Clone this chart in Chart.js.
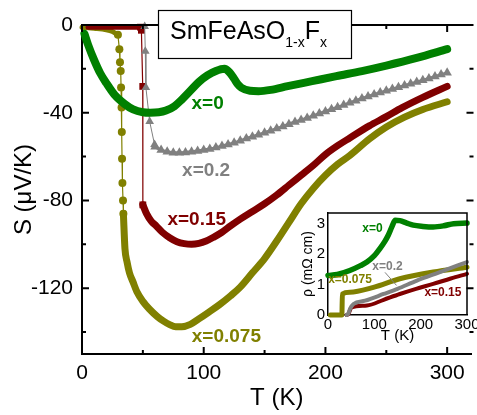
<!DOCTYPE html>
<html>
<head>
<meta charset="utf-8">
<script src="https://cdn.jsdelivr.net/npm/chart.js@4.4.0/dist/chart.umd.min.js"></script>
<style>
  html, body { margin: 0; padding: 0; background: #fff; }
  #wrap { position: relative; width: 477px; height: 415px; overflow: hidden; }
  #mainChart { position: absolute; left: 0; top: 0; }
  #insetChart { position: absolute; left: 300px; top: 205px; }
</style>
</head>
<body>
<div id="wrap">
  <canvas id="mainChart" width="477" height="415"></canvas>
  <canvas id="insetChart" width="177" height="145"></canvas>
</div>
<script>
// ---- main panel: thermopower S (uV/K) vs T (K) ----
const xTicks = [0, 100, 200, 300];
const xMinor = [50, 150, 250];
const yTicks = [0, -40, -80, -120];
const yMinor = [-20, -60, -100, -140];

// x = 0
const x0T = [2, 5, 10, 15, 20, 27, 35, 42, 50, 56, 63, 69, 76, 82, 89, 96, 103, 110, 117, 121, 125, 128, 131, 138, 145, 155, 169, 189, 209, 230, 250, 275, 300];
const x0S = [-4, -9, -16, -22, -26.5, -32, -36, -38.5, -39.8, -40, -39.8, -39, -37, -34, -30, -26, -23, -21, -20, -21.5, -24.5, -27, -28.6, -30, -30.2, -29.6, -27.9, -25.6, -23.3, -21, -18.5, -15, -11];

// x = 0.2
const x02DropT = [51.5, 52, 52.5, 55.6, 59.6];
const x02DropS = [-0.7, -12, -28.5, -44, -54.5];
const x02T = [60, 65, 70, 75, 80, 85, 90, 95, 100, 105, 110, 115, 120, 125, 130, 135, 140, 145, 150, 155, 160, 165, 170, 175, 180, 185, 190, 195, 200, 205, 210, 215, 220, 225, 230, 235, 240, 245, 250, 255, 260, 265, 270, 275, 280, 285, 290, 295, 300];
const x02S = [-55.5, -57, -57.8, -58.2, -58.3, -58.1, -57.8, -57.4, -57, -56.5, -55.9, -55.2, -54.5, -53.7, -52.8, -51.8, -50.9, -50, -49.1, -48.2, -47.2, -46.3, -45.2, -44.2, -43.3, -42.4, -41.4, -40.4, -39.4, -38.4, -37.5, -36.5, -35.5, -34.5, -33.5, -32.6, -31.7, -30.8, -30, -29.2, -28.4, -27.6, -26.8, -26, -25.2, -24.4, -23.5, -22.6, -21.8];

// x = 0.15
const x015TopT = [5, 20, 35, 48];
const x015TopS = [-1, -1, -1, -1];
const x015DropT = [48, 48.8, 49.9, 50];
const x015DropS = [-1, -2.4, -28, -82];
const x015T = [50, 53, 57, 61, 66, 72, 78, 84, 90, 96, 102, 108, 115, 122, 130, 140, 150, 160, 170, 180, 190, 200, 210, 220, 236, 250, 263, 280, 300];
const x015S = [-82, -86, -89.5, -91.6, -94.5, -97, -98.8, -99.7, -100, -99.6, -98.5, -96.8, -94.5, -91.6, -88.5, -85, -81.5, -77.5, -73, -68.5, -64, -59, -55, -51.5, -46, -41.8, -37.7, -33, -28];

// x = 0.075
const x0075TopT = [0, 10, 20, 25, 29.5];
const x0075TopS = [-1, -1.5, -2.2, -3, -4.5];
const x0075DropT = [29.5, 30.7, 31.2, 31.8, 32.1, 32.5, 32.7, 32.9, 33.2, 33.7, 34];
const x0075DropS = [-4.5, -11, -17, -21, -28.5, -37.6, -48.8, -61, -72, -80, -86];
const x0075T = [34, 35.3, 37, 39, 41.8, 45, 50, 55.5, 62, 67, 72, 77, 82, 89, 96, 104, 113, 122, 130, 140, 150, 160, 170, 180, 190, 200, 210, 220, 236, 250, 265, 280, 300];
const x0075S = [-86, -102, -108, -113, -117, -121.5, -126, -129.6, -133, -135, -136.6, -137.6, -137.6, -136.5, -134, -131, -127.5, -123.5, -119.5, -113, -106.5, -98.5, -90, -81.5, -74.5, -68.5, -63.5, -59.5, -52, -46.5, -42, -38.5, -35];

// ---- inset: resistivity rho (mOhm cm) vs T (K) ----
const insetXTicks = [0, 100, 200, 300];
const insetYTicks = [0, 1, 2, 3];
const r0T = [0, 20, 47, 70, 84, 100, 112, 122, 130, 138, 145, 155, 170, 184, 205, 227, 250, 271, 300];
const r0R = [1.3, 1.33, 1.46, 1.62, 1.74, 1.95, 2.18, 2.4, 2.62, 2.9, 3.11, 3.1, 3.02, 2.95, 2.91, 2.89, 2.93, 3.0, 3.02];
const r0075T = [5, 30, 31, 47, 98, 155, 227, 300];
const r0075R = [0, 0, 0.69, 0.75, 0.91, 1.19, 1.41, 1.57];
const r02T = [40, 44, 47.5, 55, 80, 120, 150, 192, 240, 300];
const r02R = [0, 0.05, 0.2, 0.36, 0.47, 0.69, 0.86, 1.13, 1.4, 1.74];
const r015T = [40, 44, 48, 51, 84, 120, 155, 190, 227, 265, 300];
const r015R = [0, 0.03, 0.18, 0.25, 0.31, 0.5, 0.69, 0.86, 1.02, 1.2, 1.35];

const FONT = '"Liberation Sans", Arial, sans-serif';
const GREEN = 'rgb(0,128,0)';
const GRAY = 'rgb(128,128,128)';
const RED = 'rgb(128,0,0)';
const OLIVE = 'rgb(128,128,0)';

const pts = (xs, ys) => xs.map((x, i) => ({ x: x, y: ys[i] }));

// thick band made of dense points in the original
function band(data, color, width) {
  return {
    data: data, borderColor: color, backgroundColor: color, borderWidth: width,
    pointRadius: 0, cubicInterpolationMode: 'monotone', borderCapStyle: 'round',
    borderJoinStyle: 'round', clip: false
  };
}
// sparse markers joined by a thin line
function markers(data, color, style, r, lineWidth) {
  return {
    data: data, borderColor: color, backgroundColor: color, borderWidth: lineWidth,
    pointStyle: style, pointRadius: r, pointBorderWidth: 0, tension: 0, clip: false
  };
}

const mainDecor = {
  id: 'mainDecor',
  afterDraw(chart) {
    const { ctx, chartArea: a, scales: { x, y } } = chart;
    ctx.save();
    ctx.strokeStyle = '#000';
    ctx.lineWidth = 2;
    ctx.beginPath();
    ctx.moveTo(a.left - 1, a.top);
    ctx.lineTo(a.right + 2, a.top);
    const seg = (x1, y1, x2, y2) => { ctx.moveTo(x1, y1); ctx.lineTo(x2, y2); };
    xTicks.forEach(v => {
      const px = x.getPixelForValue(v);
      seg(px, a.bottom, px, a.bottom - 7);
      seg(px, a.top, px, a.top + 7);
    });
    xMinor.forEach(v => {
      const px = x.getPixelForValue(v);
      seg(px, a.bottom, px, a.bottom - 4);
      seg(px, a.top, px, a.top + 4);
    });
    yTicks.forEach(v => {
      const py = y.getPixelForValue(v);
      seg(a.left, py, a.left + 7, py);
      seg(a.right + 2, py, a.right - 5, py);
    });
    yMinor.forEach(v => {
      const py = y.getPixelForValue(v);
      seg(a.left, py, a.left + 4, py);
      seg(a.right + 2, py, a.right - 2, py);
    });
    ctx.stroke();

    // compound name box
    ctx.fillStyle = '#fff';
    ctx.fillRect(158, 10, 194, 48);
    ctx.lineWidth = 1.2;
    ctx.strokeRect(158.5, 10.5, 193, 48);
    ctx.fillStyle = '#000';
    ctx.textAlign = 'left';
    ctx.textBaseline = 'alphabetic';
    let cx = 170;
    const part = (t, size, base) => {
      ctx.font = size + 'px ' + FONT;
      ctx.fillText(t, cx, base);
      cx += ctx.measureText(t).width;
    };
    part('SmFeAsO', 25, 39);
    part('1-x', 14, 47);
    part('F', 25, 39);
    part('x', 14, 47);

    // series labels
    ctx.font = 'bold 19px ' + FONT;
    ctx.textAlign = 'center';
    ctx.textBaseline = 'middle';
    [['x=0', 103.2, -35.7, GREEN], ['x=0.2', 102, -66.5, GRAY],
     ['x=0.15', 94.3, -89, RED], ['x=0.075', 118.6, -142, OLIVE]].forEach(l => {
      ctx.fillStyle = l[3];
      ctx.fillText(l[0], x.getPixelForValue(l[1]), y.getPixelForValue(l[2]));
    });
    ctx.restore();
  }
};

new Chart(document.getElementById('mainChart'), {
  type: 'line',
  data: {
    datasets: [
      band(pts(x0T, x0S), GREEN, 8),
      markers(pts(x02DropT, x02DropS), GRAY, 'triangle', 5, 1),
      Object.assign(band(pts(x02T, x02S), GRAY, 3), { pointStyle: 'triangle', pointRadius: 5.5, pointBorderWidth: 0 }),
      band(pts(x015TopT, x015TopS), RED, 5),
      markers(pts(x015DropT, x015DropS), RED, 'rect', 4.8, 1.2),
      band(pts(x015T, x015S), RED, 7),
      band(pts(x0075TopT, x0075TopS), OLIVE, 5),
      markers(pts(x0075DropT, x0075DropS), OLIVE, 'circle', 4, 1.2),
      band(pts(x0075T, x0075S), OLIVE, 7)
    ]
  },
  options: {
    responsive: false,
    animation: false,
    devicePixelRatio: 1,
    layout: { padding: { top: 25, right: 0, bottom: 0, left: 0 } },
    plugins: { legend: { display: false }, tooltip: { enabled: false } },
    scales: {
      x: {
        type: 'linear', min: 0, max: 320,
        afterBuildTicks: s => { s.ticks = xTicks.map(v => ({ value: v })); },
        afterFit: s => { s.height = 61; s.paddingLeft = 0; s.paddingRight = 0; },
        grid: { display: false, drawTicks: false },
        border: { display: true, color: '#000', width: 2 },
        ticks: { autoSkip: false, maxRotation: 0, padding: 7, color: '#000', font: { family: FONT, size: 21 } },
        title: { display: true, text: 'T (K)', color: '#000', font: { family: FONT, size: 24 }, padding: { top: 0, bottom: 2 } }
      },
      y: {
        type: 'linear', min: -150, max: 0,
        afterBuildTicks: s => { s.ticks = yTicks.map(v => ({ value: v })); },
        afterFit: s => { s.width = 82; s.paddingTop = 0; s.paddingBottom = 0; },
        grid: { display: false, drawTicks: false },
        border: { display: true, color: '#000', width: 2 },
        ticks: { autoSkip: false, padding: 9, color: '#000', font: { family: FONT, size: 21 } },
        title: { display: true, text: 'S (\u03bcV/K)', color: '#000', font: { family: FONT, size: 24 }, padding: { top: 10, bottom: 0 } }
      }
    }
  },
  plugins: [mainDecor]
});

const insetDecor = {
  id: 'insetDecor',
  afterDraw(chart) {
    const { ctx, chartArea: a, scales: { x, y } } = chart;
    ctx.save();
    ctx.strokeStyle = '#000';
    ctx.lineWidth = 1.5;
    ctx.beginPath();
    ctx.moveTo(a.left, a.top);
    ctx.lineTo(a.right, a.top);
    ctx.lineTo(a.right, a.bottom);
    ctx.stroke();

    // pointer from the x=0.2 label to its curve
    ctx.strokeStyle = GRAY;
    ctx.lineWidth = 1;
    ctx.beginPath();
    ctx.moveTo(x.getPixelForValue(123), y.getPixelForValue(1.4));
    ctx.lineTo(x.getPixelForValue(148), y.getPixelForValue(0.97));
    ctx.stroke();

    ctx.font = 'bold 12px ' + FONT;
    ctx.textAlign = 'center';
    ctx.textBaseline = 'middle';
    [['x=0', 96, 2.82, GREEN], ['x=0.075', 47.5, 1.17, OLIVE],
     ['x=0.2', 128.4, 1.6, GRAY], ['x=0.15', 248, 0.74, RED]].forEach(l => {
      ctx.fillStyle = l[3];
      ctx.fillText(l[0], x.getPixelForValue(l[1]), y.getPixelForValue(l[2]));
    });
    ctx.restore();
  }
};

new Chart(document.getElementById('insetChart'), {
  type: 'line',
  data: {
    datasets: [
      band(pts(r0T, r0R), GREEN, 5.5),
      band(pts(r02T, r02R), GRAY, 4),
      band(pts(r015T, r015R), RED, 4),
      band(pts(r0075T, r0075R), OLIVE, 5)
    ]
  },
  options: {
    responsive: false,
    animation: false,
    devicePixelRatio: 1,
    layout: { padding: { top: 8, right: 10, bottom: 0, left: 0 } },
    plugins: { legend: { display: false }, tooltip: { enabled: false } },
    scales: {
      x: {
        type: 'linear', min: 0, max: 300,
        afterBuildTicks: s => { s.ticks = insetXTicks.map(v => ({ value: v })); },
        afterFit: s => { s.height = 35; s.paddingLeft = 0; s.paddingRight = 0; },
        grid: { display: false, drawTicks: false },
        border: { display: true, color: '#000', width: 1.5 },
        ticks: { autoSkip: false, maxRotation: 0, padding: 1, color: '#000', font: { family: FONT, size: 15 } },
        title: { display: true, text: 'T (K)', color: '#000', font: { family: FONT, size: 15 }, padding: { top: 0, bottom: 5 } }
      },
      y: {
        type: 'linear', min: 0, max: 3.35,
        afterBuildTicks: s => { s.ticks = insetYTicks.map(v => ({ value: v })); },
        afterFit: s => { s.width = 28; s.paddingTop = 0; s.paddingBottom = 0; },
        grid: { display: false, drawTicks: false },
        border: { display: true, color: '#000', width: 1.5 },
        ticks: { autoSkip: false, padding: 3, color: '#000', font: { family: FONT, size: 15 } },
        title: { display: true, text: '\u03c1 (m\u03a9 cm)', color: '#000', font: { family: FONT, size: 14 }, padding: { top: 0, bottom: 0 } }
      }
    }
  },
  plugins: [insetDecor]
});
</script>
</body>
</html>
